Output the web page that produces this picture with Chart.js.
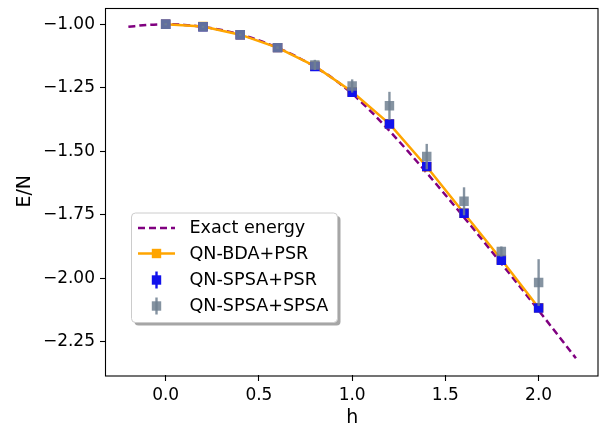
<!DOCTYPE html>
<html>
<head>
<meta charset="utf-8">
<script src="https://cdn.jsdelivr.net/npm/chart.js@4.4.0/dist/chart.umd.min.js"></script>
<style>
html, body { margin: 0; padding: 0; background: #fff; }
</style>
</head>
<body>
<canvas id="chart" width="605" height="429"></canvas>
<script>
// exact curve
var exactH = [-0.2, -0.1, 0.0, 0.1, 0.2, 0.3, 0.4, 0.5, 0.6, 0.7, 0.8, 0.9, 1.0,
              1.1, 1.2, 1.3, 1.4, 1.5, 1.6, 1.7, 1.8, 1.9, 2.0, 2.1, 2.2];
var exactE = [-1.0101, -1.0025, -1.0000, -1.0025, -1.0101, -1.0226, -1.0405, -1.0635,
              -1.0922, -1.1267, -1.1672, -1.2148, -1.2732, -1.3428, -1.4196, -1.5008,
              -1.5852, -1.6720, -1.7604, -1.8505, -1.9415, -2.0337, -2.1266, -2.2208, -2.3151];

// measured points
var hPoints = [0.0, 0.2, 0.4, 0.6, 0.8, 1.0, 1.2, 1.4, 1.6, 1.8, 2.0];
var bdaPsr = [-1.000, -1.009, -1.041, -1.092, -1.165, -1.266, -1.392, -1.561, -1.744, -1.926, -2.116];
var spsaPsr = [-1.000, -1.010, -1.041, -1.092, -1.166, -1.268, -1.393, -1.560, -1.744, -1.929, -2.117];
var spsaPsrErr = [0.004, 0.004, 0.004, 0.004, 0.005, 0.006, 0.008, 0.008, 0.008, 0.006, 0.008];
var spsaSpsa = [-1.000, -1.010, -1.041, -1.092, -1.160, -1.243, -1.321, -1.521, -1.697, -1.895, -2.017];
var spsaSpsaErr = [0.004, 0.004, 0.004, 0.005, 0.020, 0.026, 0.055, 0.050, 0.055, 0.020, 0.092];

var xTicks = [0, 0.5, 1.0, 1.5, 2.0];
var yTicks = [-1.0, -1.25, -1.5, -1.75, -2.0, -2.25];
var seriesNames = ['Exact energy', 'QN-BDA+PSR', 'QN-SPSA+PSR', 'QN-SPSA+SPSA'];

var FONT = "'DejaVu Sans', sans-serif";
var GRAY = 'rgba(112,128,144,0.85)';
var BLUE = 'rgb(18,18,236)';

function pts(xs, ys) {
	return xs.map(function(x, i) { return {x: x, y: ys[i]}; });
}

function noPad(s) {
	s.paddingLeft = 0; s.paddingRight = 0; s.paddingTop = 0; s.paddingBottom = 0;
}

// error bars go under each dataset's markers
var errorBars = {
	id: 'errorBars',
	beforeDatasetDraw: function(chart, args) {
		var ds = chart.data.datasets[args.index];
		if (!ds.errs) return;
		var ctx = chart.ctx, ys = chart.scales.y;
		ctx.save();
		ctx.strokeStyle = ds.errColor;
		ctx.lineWidth = 2.4;
		args.meta.data.forEach(function(p, i) {
			var v = ds.data[i].y, e = ds.errs[i];
			ctx.beginPath();
			ctx.moveTo(p.x, ys.getPixelForValue(v + e));
			ctx.lineTo(p.x, ys.getPixelForValue(v - e));
			ctx.stroke();
		});
		ctx.restore();
	}
};

// frame + matplotlib style legend
var frameLegend = {
	id: 'frameLegend',
	afterDraw: function(chart) {
		var ctx = chart.ctx, ca = chart.chartArea;
		ctx.save();
		ctx.strokeStyle = '#000';
		ctx.lineWidth = 1.1;
		ctx.strokeRect(Math.round(ca.left) - 0.5, Math.round(ca.top) + 0.5,
			Math.round(ca.right - ca.left) + 0.5, Math.round(ca.bottom - ca.top) - 0.5);

		var bx = ca.left + 25.5, by = ca.top + 205.5, bw = 206, bh = 109.5;
		function box(x, y) {
			ctx.beginPath();
			ctx.roundRect(x, y, bw, bh, 4);
		}
		ctx.fillStyle = 'rgba(77,77,77,0.5)';
		box(bx + 3, by + 3);
		ctx.fill();
		ctx.fillStyle = '#fff';
		ctx.strokeStyle = '#cccccc';
		ctx.lineWidth = 1;
		box(bx, by);
		ctx.fill();
		ctx.stroke();

		var hx0 = bx + 6.5, hx1 = bx + 43.5, hc = bx + 25;
		var rows = [by + 15, by + 40.5, by + 67, by + 93];
		var half = 4.7;

		// exact energy
		ctx.strokeStyle = 'purple';
		ctx.lineWidth = 2.5;
		ctx.setLineDash([7, 4]);
		ctx.beginPath();
		ctx.moveTo(hx0, rows[0]);
		ctx.lineTo(hx1, rows[0]);
		ctx.stroke();
		ctx.setLineDash([]);

		// bda
		ctx.strokeStyle = 'orange';
		ctx.beginPath();
		ctx.moveTo(hx0, rows[1]);
		ctx.lineTo(hx1, rows[1]);
		ctx.stroke();
		ctx.fillStyle = 'orange';
		ctx.fillRect(hc - half, rows[1] - half, 2 * half, 2 * half);

		// error bar handles
		[[BLUE, rows[2]], [GRAY, rows[3]]].forEach(function(h) {
			ctx.strokeStyle = h[0];
			ctx.lineWidth = 2.4;
			ctx.beginPath();
			ctx.moveTo(hc, h[1] - 8.5);
			ctx.lineTo(hc, h[1] + 8.5);
			ctx.stroke();
			ctx.fillStyle = h[0];
			ctx.fillRect(hc - half, h[1] - half, 2 * half, 2 * half);
		});

		ctx.fillStyle = '#000';
		ctx.font = '17.6px ' + FONT;
		ctx.textBaseline = 'middle';
		ctx.textAlign = 'left';
		seriesNames.forEach(function(t, i) {
			ctx.fillText(t, bx + 58, rows[i] + 0.5);
		});
		ctx.restore();
	}
};

new Chart(document.getElementById('chart'), {
	type: 'line',
	data: {
		datasets: [
			{
				label: seriesNames[0],
				data: pts(exactH, exactE),
				borderColor: 'purple',
				borderWidth: 2.5,
				borderDash: [7, 4],
				pointRadius: 0,
				cubicInterpolationMode: 'monotone',
				fill: false,
				order: 3
			}, {
				label: seriesNames[1],
				data: pts(hPoints, bdaPsr),
				borderColor: 'orange',
				backgroundColor: 'orange',
				borderWidth: 2.5,
				pointStyle: 'rect',
				pointRadius: 6.7,
				pointBorderWidth: 0,
				fill: false,
				order: 2
			}, {
				label: seriesNames[2],
				data: pts(hPoints, spsaPsr),
				errs: spsaPsrErr,
				errColor: BLUE,
				showLine: false,
				backgroundColor: BLUE,
				borderColor: BLUE,
				pointStyle: 'rect',
				pointRadius: 6.7,
				pointBorderWidth: 0,
				order: 1
			}, {
				label: seriesNames[3],
				data: pts(hPoints, spsaSpsa),
				errs: spsaSpsaErr,
				errColor: GRAY,
				showLine: false,
				backgroundColor: GRAY,
				borderColor: GRAY,
				pointStyle: 'rect',
				pointRadius: 6.7,
				pointBorderWidth: 0,
				order: 0
			}
		]
	},
	options: {
		responsive: false,
		animation: false,
		events: [],
		layout: { padding: { left: 0, right: 5, top: 7.5, bottom: 0 } },
		plugins: {
			legend: { display: false },
			tooltip: { enabled: false }
		},
		scales: {
			x: {
				type: 'linear',
				min: -0.32,
				max: 2.32,
				afterBuildTicks: function(s) { s.ticks = xTicks.map(function(v) { return {value: v}; }); },
				afterFit: function(s) { s.height = 54; noPad(s); },
				ticks: {
					autoSkip: false,
					maxRotation: 0,
					padding: 4,
					color: '#000',
					font: { family: FONT, size: 17 },
					callback: function(v) { return Number(v).toFixed(1); }
				},
				grid: { drawOnChartArea: false, drawTicks: true, tickLength: 6, tickColor: '#000', tickWidth: 1.1 },
				border: { display: false },
				title: {
					display: true,
					text: 'h',
					color: '#000',
					font: { family: FONT, size: 19 },
					padding: { top: 0, bottom: 0 }
				}
			},
			y: {
				type: 'linear',
				min: -2.381,
				max: -0.934,
				afterBuildTicks: function(s) { s.ticks = yTicks.map(function(v) { return {value: v}; }); },
				afterFit: function(s) { s.width = 106; noPad(s); },
				ticks: {
					autoSkip: false,
					padding: 5,
					color: '#000',
					font: { family: FONT, size: 17 },
					callback: function(v) { return (v < 0 ? '\u2212' : '') + Math.abs(v).toFixed(2); }
				},
				grid: { drawOnChartArea: false, drawTicks: true, tickLength: 6, tickColor: '#000', tickWidth: 1.1 },
				border: { display: false },
				title: {
					display: true,
					text: 'E/N',
					color: '#000',
					font: { family: FONT, size: 19 },
					padding: { top: 14, bottom: 0 }
				}
			}
		}
	},
	plugins: [errorBars, frameLegend]
});
</script>
</body>
</html>
